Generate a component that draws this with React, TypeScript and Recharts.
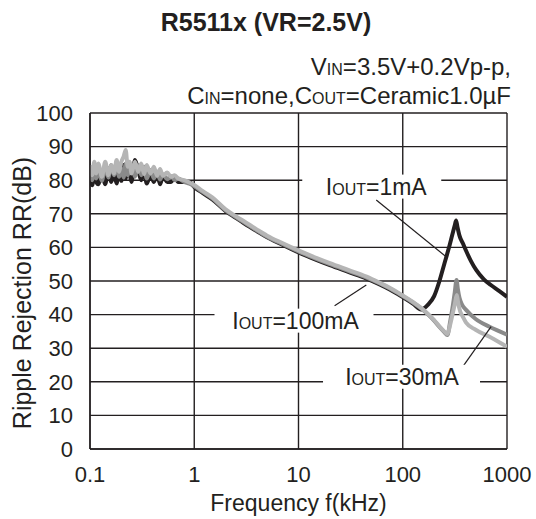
import {
  CartesianGrid,
  Line,
  LineChart,
  ReferenceDot,
  ReferenceLine,
  XAxis,
  YAxis,
} from "recharts"

const INK = "#231f20"
const FONT = "'Liberation Sans', Arial, Helvetica, sans-serif"

const X_TICKS = [0.1, 1, 10, 100, 1000]
const Y_TICKS = [0, 10, 20, 30, 40, 50, 60, 70, 80, 90, 100]

// low-frequency region (noisy), shared by all three traces
const LOW_FREQ = [
  0.1, 0.105, 0.11, 0.115, 0.12, 0.13, 0.14, 0.15, 0.16, 0.17, 0.18, 0.19, 0.2, 0.21, 0.22, 0.23,
  0.24, 0.25, 0.27, 0.29, 0.31, 0.33, 0.35, 0.38, 0.41, 0.44, 0.47, 0.5, 0.55, 0.6, 0.65, 0.7, 0.8,
  0.9,
]
const MID_FREQ = [1, 1.2, 1.5, 2, 2.5, 3, 4, 5, 7, 10, 15, 20, 30, 45, 60, 75, 100, 125]

const TAIL_FREQ_1MA = [
  150, 175, 200, 225, 250, 275, 300, 315, 325, 335, 350, 380, 405, 450, 506, 600, 700, 845, 1000,
]
const TAIL_FREQ_30MA = [
  150, 175, 200, 225, 250, 268, 285, 300, 315, 328, 338, 350, 370, 405, 500, 680, 850, 1000,
]
const TAIL_FREQ_100MA = [
  150, 175, 200, 225, 250, 268, 285, 300, 315, 330, 340, 355, 375, 405, 500, 680, 850, 1000,
]

const RR_1MA = [
  81, 78.5, 82.5, 79.5, 78.8, 82.5, 78.8, 83.5, 79.5, 82, 79, 83.5, 79.8, 84.5, 80.5, 85.5, 82, 79.5,
  86, 83, 80, 83, 79, 81.5, 79.5, 82, 78.8, 81, 79.5, 79.5, 81, 79.5, 79.5, 79.5,
  78, 76.2, 74.2, 70.8, 68.8, 67.2, 64.8, 63, 60.8, 58.5, 56.2, 54.7, 52.7, 50.7, 49, 47.5, 45.2,
  43.3,
  41.5, 43, 45.5, 50, 55, 59.5, 64, 66.5, 68, 66, 63.5, 61, 59, 56, 53.3, 50.5, 48.8, 47, 45.3,
]
const RR_30MA = [
  83.5, 80, 84.5, 80.5, 83, 79.8, 84, 80.8, 84.5, 81.5, 85.5, 81, 83.5, 80.8, 85, 81.5, 83.5, 84.5,
  81, 84.5, 81.5, 84, 80.5, 83, 80.5, 82.5, 80.2, 81.8, 80.3, 81.2, 80, 80.5, 79.5, 79,
  78.2, 76.5, 74.5, 71, 69, 67.5, 65, 63.2, 61, 58.8, 56.5, 55, 53, 51, 49.3, 47.8, 45.5, 43.6,
  41.8, 40, 38.2, 36.3, 34.8, 33.9, 38, 42, 46.5, 50.3, 47.5, 45, 43, 41.4, 38.7, 36.4, 35, 34,
]
const RR_100MA = [
  84.5, 81.5, 85.5, 82, 85, 81, 85.5, 81.5, 84.5, 82, 86, 82.5, 85.5, 87, 89, 84, 85.5, 82, 85.5,
  82.5, 85, 81.8, 84.5, 82, 84, 81.3, 83.3, 81.3, 82.3, 81, 81.5, 80.5, 80, 79.3,
  78.6, 76.8, 74.8, 71.3, 69.3, 67.8, 65.3, 63.5, 61.3, 59.1, 56.8, 55.3, 53.3, 51.3, 49.5, 48,
  45.7, 43.8,
  42, 40.2, 38.4, 36.5, 35, 34.2, 37, 40, 43, 45.8, 43.5, 41, 39.5, 37.6, 35.5, 33.4, 31.7, 30.4,
]

// curve labels: text centre and leader line ends, in (kHz, dB)
const LABELS = [
  { id: "1mA", text: "1mA", f: 55.7, rr: 78.1, left: 74, right: 65, lead: [55.7, 74.1, 261, 57.2] },
  { id: "100mA", text: "100mA", f: 9.36, rr: 38.2, left: 81, right: 78, lead: [22.2, 42.6, 44.7, 48.8] },
  { id: "30mA", text: "30mA", f: 98.4, rr: 21.5, left: 79, right: 78, lead: [377, 24.5, 704, 36.4] },
]

const toPoints = (freqs: number[], values: number[]) => freqs.map((f, i) => ({ f, rr: values[i] }))

const data1mA = toPoints([...LOW_FREQ, ...MID_FREQ, ...TAIL_FREQ_1MA], RR_1MA)
const data30mA = toPoints([...LOW_FREQ, ...MID_FREQ, ...TAIL_FREQ_30MA], RR_30MA)
const data100mA = toPoints([...LOW_FREQ, ...MID_FREQ, ...TAIL_FREQ_100MA], RR_100MA)

function CurveLabel(props: any) {
  const { cx, cy, text, left, right } = props
  if (cx == null || cy == null) return null
  return (
    <g>
      <rect x={cx - left} y={cy - 12} width={left + right} height={24} fill="#fff" />
      <text
        x={cx}
        y={cy + 8}
        textAnchor="middle"
        fontFamily={FONT}
        fontSize={23}
        fill={INK}
      >
        I<tspan fontSize={16}>OUT</tspan>={text}
      </text>
    </g>
  )
}

export default function App() {
  return (
    <div style={{ position: "absolute", left: 0, top: 0, width: 536, height: 519, background: "#fff" }}>
      <LineChart
        width={536}
        height={519}
        margin={{ top: 113, right: 29, bottom: 40, left: 30 }}
      >
        <CartesianGrid stroke={INK} strokeWidth={1.4} />
        <XAxis
          dataKey="f"
          type="number"
          scale="log"
          domain={[0.1, 1000]}
          ticks={X_TICKS}
          allowDataOverflow
          interval={0}
          height={30}
          tickSize={0}
          tickMargin={17}
          axisLine={{ stroke: INK, strokeWidth: 1.4 }}
          tick={{ fill: INK, fontSize: 22, fontFamily: FONT }}
          tickFormatter={(v: number) => String(v)}
          label={(p: any) => (
            <text
              x={p.viewBox.x + p.viewBox.width / 2}
              y={511}
              textAnchor="middle"
              fontFamily={FONT}
              fontSize={23}
              fill={INK}
            >
              Frequency f(kHz)
            </text>
          )}
        />
        <YAxis
          type="number"
          domain={[0, 100]}
          ticks={Y_TICKS}
          interval={0}
          width={60}
          tickSize={0}
          tickMargin={17}
          axisLine={{ stroke: INK, strokeWidth: 1.4 }}
          tick={{ fill: INK, fontSize: 22, fontFamily: FONT }}
          label={(p: any) => (
            <text
              x={0}
              y={0}
              transform={`translate(31, ${p.viewBox.y + p.viewBox.height / 2 + 12}) rotate(-90)`}
              textAnchor="middle"
              fontFamily={FONT}
              fontSize={25}
              fill={INK}
            >
              Ripple Rejection RR(dB)
            </text>
          )}
        />
        <Line
          data={data1mA}
          dataKey="rr"
          type="monotoneX"
          stroke={INK}
          strokeWidth={4}
          dot={false}
          isAnimationActive={false}
        />
        <Line
          data={data30mA}
          dataKey="rr"
          type="monotoneX"
          stroke="#8a8a8a"
          strokeWidth={4}
          dot={false}
          isAnimationActive={false}
        />
        <Line
          data={data100mA}
          dataKey="rr"
          type="monotoneX"
          stroke="#b5b5b5"
          strokeWidth={4}
          dot={false}
          isAnimationActive={false}
        />
        {LABELS.map((l) => (
          <ReferenceLine
            key={"lead" + l.id}
            segment={[
              { x: l.lead[0], y: l.lead[1] },
              { x: l.lead[2], y: l.lead[3] },
            ]}
            stroke={INK}
            strokeWidth={1.2}
          />
        ))}
        {LABELS.map((l) => (
          <ReferenceDot
            key={"label" + l.id}
            x={l.f}
            y={l.rr}
            r={0}
            shape={(p: any) => <CurveLabel {...p} text={l.text} left={l.left} right={l.right} />}
          />
        ))}
      </LineChart>
      <svg
        width={536}
        height={110}
        style={{ position: "absolute", left: 0, top: 0, pointerEvents: "none" }}
      >
        <text x={266} y={31} textAnchor="middle" fontFamily={FONT} fontSize={25} fontWeight="bold" fill={INK}>
          R5511x (VR=2.5V)
        </text>
        <text x={511} y={75} textAnchor="end" fontFamily={FONT} fontSize={24} fill={INK}>
          V<tspan fontSize={16}>IN</tspan>=3.5V+0.2Vp-p,
        </text>
        <text x={511} y={104} textAnchor="end" fontFamily={FONT} fontSize={24} fill={INK}>
          C<tspan fontSize={16}>IN</tspan>=none,C<tspan fontSize={16}>OUT</tspan>=Ceramic1.0µF
        </text>
      </svg>
    </div>
  )
}
